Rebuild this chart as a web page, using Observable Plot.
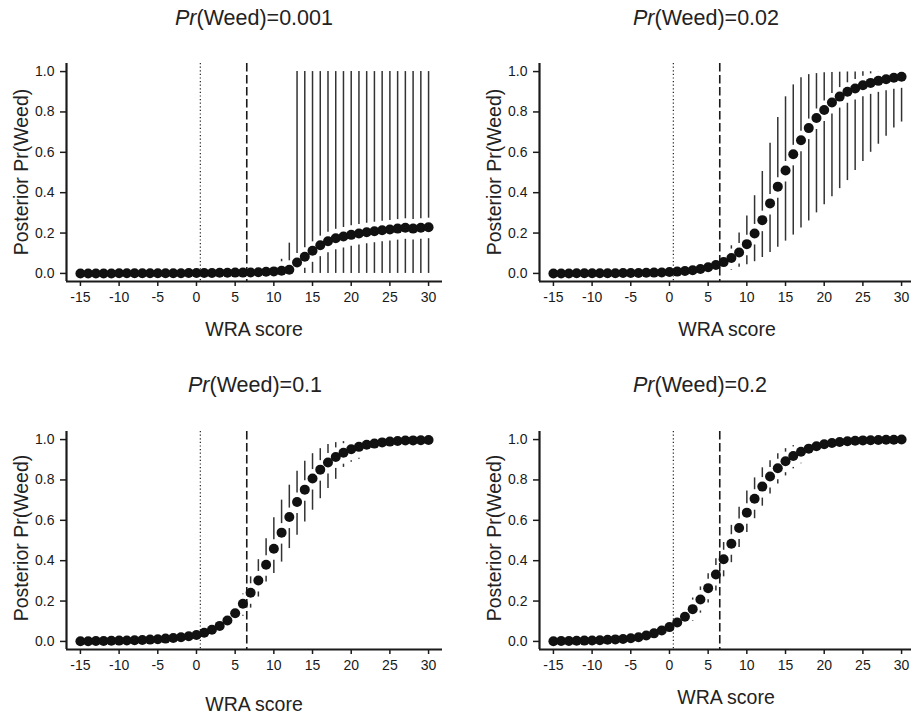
<!DOCTYPE html>
<html><head><meta charset="utf-8">
<script src="https://cdn.jsdelivr.net/npm/d3@7"></script>
<script src="https://cdn.jsdelivr.net/npm/@observablehq/plot@0.6"></script>
<style>
html,body{margin:0;padding:0;overflow:hidden;background:#fff;}
#wrap{position:relative;width:911px;height:717px;overflow:hidden;font-family:"Liberation Sans",Arial,Helvetica,sans-serif;color:#222;}
.panel{position:absolute;width:455px;}
.panel svg{max-width:none !important;display:block;}
.txt{position:absolute;white-space:nowrap;font-size:19.5px;line-height:1;transform:translate(-50%,-50%);}
.title{font-size:21.5px;}
.ylab{transform:translate(-50%,-50%) rotate(-90deg);}
</style></head>
<body><div id="wrap"></div>
<script>
// WRA score categories
const wraScores = [-15,-14,-13,-12,-11,-10,-9,-8,-7,-6,-5,-4,-3,-2,-1,0,1,2,3,4,5,6,7,8,9,10,11,12,13,14,15,16,17,18,19,20,21,22,23,24,25,26,27,28,29,30];
const xTicks = [-15,-10,-5,0,5,10,15,20,25,30];
const yTicks = [0,0.2,0.4,0.6,0.8,1.0];
const refLines = [0.5, 6.5]; // dotted, dashed
const priors = ["0.001", "0.02", "0.1", "0.2"];

// Prior Pr(Weed)=0.001
const p001Mean = [0,0,0,0,0,0.001,0.001,0.001,0.001,0.001,0.001,0.001,0.001,0.001,0.002,0.002,0.002,0.002,0.003,0.003,0.004,0.004,0.005,0.006,0.008,0.010,0.013,0.018,0.054,0.083,0.112,0.140,0.159,0.174,0.183,0.191,0.198,0.204,0.209,0.214,0.218,0.222,0.226,0.222,0.226,0.229];
const p001Lower = [0,0,0,0,0,0,0,0,0,0,0,0,0,0,0,0,0,0,0,0,0,0,0,0,0,0,0,0,0,0,0,0,0,0,0,0,0,0,0,0,0,0,0,0,0,0];
const p001Upper = [0.01,0.01,0.01,0.01,0.01,0.01,0.01,0.01,0.01,0.01,0.01,0.01,0.01,0.01,0.015,0.015,0.015,0.015,0.02,0.02,0.02,0.025,0.025,0.03,0.035,0.04,0.07,0.15,1,1,1,1,1,1,1,1,1,1,1,1,1,1,1,1,1,1];

// Prior Pr(Weed)=0.02
const p02Mean = [0,0,0,0.001,0.001,0.001,0.001,0.001,0.001,0.002,0.002,0.002,0.003,0.004,0.005,0.007,0.009,0.012,0.016,0.022,0.031,0.042,0.056,0.076,0.104,0.145,0.198,0.264,0.347,0.430,0.510,0.590,0.660,0.720,0.770,0.810,0.847,0.876,0.900,0.916,0.932,0.944,0.954,0.962,0.969,0.974];
const p02Lower = [0,0,0,0,0,0,0,0,0,0,0,0,0,0,0,0,0,0,0,0,0.002,0.004,0.010,0.016,0.030,0.043,0.058,0.079,0.104,0.130,0.160,0.190,0.225,0.260,0.300,0.340,0.380,0.420,0.460,0.510,0.555,0.600,0.640,0.680,0.720,0.750];
const p02Upper = [0.01,0.01,0.01,0.01,0.01,0.01,0.01,0.01,0.01,0.01,0.01,0.01,0.01,0.01,0.012,0.015,0.018,0.022,0.028,0.035,0.050,0.070,0.095,0.137,0.200,0.285,0.385,0.505,0.645,0.772,0.875,0.934,0.970,0.985,0.990,0.994,0.996,0.997,0.998,0.998,0.999,0.999,0.999,1,1,1];

// Prior Pr(Weed)=0.1
const p1Mean = [0.001,0.001,0.002,0.002,0.003,0.004,0.005,0.006,0.007,0.009,0.011,0.014,0.017,0.021,0.026,0.032,0.043,0.058,0.077,0.104,0.140,0.187,0.241,0.302,0.380,0.459,0.539,0.616,0.691,0.752,0.807,0.851,0.886,0.914,0.935,0.952,0.964,0.974,0.980,0.986,0.990,0.993,0.995,0.996,0.997,0.998];
const p1Lower = [0,0,0,0,0,0,0,0,0,0,0,0,0.005,0.007,0.010,0.013,0.020,0.030,0.045,0.065,0.100,0.125,0.165,0.220,0.294,0.336,0.393,0.460,0.526,0.592,0.650,0.707,0.757,0.803,0.862,0.888,0.902,0.930,0.945,0.958,0.968,0.975,0.980,0.984,0.987,0.990];
const p1Upper = [0.005,0.005,0.006,0.007,0.008,0.010,0.012,0.014,0.016,0.020,0.024,0.028,0.034,0.040,0.048,0.058,0.072,0.090,0.115,0.145,0.180,0.235,0.320,0.405,0.509,0.613,0.700,0.774,0.843,0.893,0.930,0.955,0.975,0.985,0.990,0.994,0.996,0.997,0.998,0.999,0.999,1,1,1,1,1];

// Prior Pr(Weed)=0.2
const p2Mean = [0.001,0.002,0.002,0.003,0.004,0.005,0.006,0.008,0.010,0.012,0.016,0.021,0.029,0.040,0.054,0.071,0.094,0.122,0.160,0.208,0.264,0.332,0.407,0.484,0.562,0.638,0.707,0.767,0.817,0.858,0.893,0.919,0.940,0.955,0.967,0.977,0.983,0.988,0.992,0.994,0.996,0.997,0.998,0.999,0.999,1.000];
const p2Lower = [0,0,0,0,0,0.001,0.002,0.003,0.004,0.005,0.007,0.010,0.015,0.024,0.035,0.048,0.066,0.088,0.100,0.140,0.190,0.250,0.320,0.390,0.465,0.540,0.608,0.670,0.730,0.780,0.820,0.855,0.880,0.905,0.925,0.940,0.955,0.965,0.975,0.980,0.985,0.988,0.990,0.992,0.994,0.995];
const p2Upper = [0.004,0.005,0.006,0.008,0.010,0.012,0.014,0.017,0.021,0.025,0.032,0.040,0.050,0.062,0.075,0.098,0.128,0.162,0.215,0.270,0.335,0.410,0.490,0.575,0.665,0.745,0.810,0.860,0.895,0.930,0.955,0.970,0.980,0.988,0.992,0.995,0.997,0.998,0.999,1,1,1,1,1,1,1];

const series = [
  {mean: p001Mean, lower: p001Lower, upper: p001Upper},
  {mean: p02Mean, lower: p02Lower, upper: p02Upper},
  {mean: p1Mean, lower: p1Lower, upper: p1Upper},
  {mean: p2Mean, lower: p2Lower, upper: p2Upper}
];

// layout
const layout = [
  {left: 0, top: 41, titleX: 254, titleY: 19, xlabX: 254, xlabY: 330, ylabX: 22, ylabY: 172},
  {left: 473.4, top: 41, titleX: 706, titleY: 19, xlabX: 727, xlabY: 330, ylabX: 495, ylabY: 172},
  {left: 0, top: 409.3, titleX: 255, titleY: 386, xlabX: 254, xlabY: 705, ylabX: 22, ylabY: 538},
  {left: 473.4, top: 409.3, titleX: 700, titleY: 386, xlabX: 726, xlabY: 698, ylabX: 495, ylabY: 538}
];

const W = 455, ml = 66, mr = 13, mt = 22, innerH = 218, mb = 40;
const xDom = [-16.8, 31.8], yDom = [-0.04, 1.04];
const pxToY = (yDom[1] - yDom[0]) / innerH;
const gapUp = 9 * pxToY, gapDown = 11.5 * pxToY;
const font = '"Liberation Sans",Arial,Helvetica,sans-serif';
const wrap = document.getElementById("wrap");

series.forEach((s, k) => {
  const L = layout[k];
  const rows = wraScores.map((x, i) => ({x, y: s.mean[i], lo: s.lower[i], hi: s.upper[i]}));
  const upSeg = rows.filter(d => d.hi > d.y + gapUp).map(d => ({x: d.x, y1: d.y + gapUp, y2: d.hi}));
  const dnSeg = rows.filter(d => d.lo < d.y - gapDown).map(d => ({x: d.x, y1: d.lo, y2: d.y - gapDown}));
  const chart = Plot.plot({
    width: W, height: mt + innerH + mb,
    marginTop: mt, marginBottom: mb, marginLeft: ml, marginRight: mr,
    x: {domain: xDom}, y: {domain: yDom},
    style: {fontFamily: font, fontSize: "14px", color: "#1a1a1a", background: "transparent", overflow: "visible", maxWidth: "none"},
    marks: [
      Plot.ruleX([refLines[0]], {stroke: "#222", strokeWidth: 1.2, strokeDasharray: "1.2,2.4"}),
      Plot.ruleX([refLines[1]], {stroke: "#1a1a1a", strokeWidth: 1.6, strokeDasharray: "8.5,3.5"}),
      Plot.ruleX(upSeg, {x: "x", y1: "y1", y2: "y2", stroke: "#333", strokeWidth: 1.5}),
      Plot.ruleX(dnSeg, {x: "x", y1: "y1", y2: "y2", stroke: "#333", strokeWidth: 1.5}),
      Plot.dot(rows, {x: "x", y: "y", r: 5, fill: "#111", stroke: "none"}),
      Plot.axisY({ticks: yTicks, tickFormat: d3.format(".1f"), tickSize: 6, tickPadding: 6, strokeWidth: 1.5, label: null}),
      Plot.axisX({ticks: xTicks, tickFormat: d => String(d), tickSize: 5, tickPadding: 6, strokeWidth: 1.5, label: null}),
      Plot.ruleX([xDom[0]], {stroke: "#1a1a1a", strokeWidth: 2.2}),
      Plot.ruleY([yDom[0]], {stroke: "#1a1a1a", strokeWidth: 2.2})
    ]
  });
  const p = document.createElement("div");
  p.className = "panel";
  p.style.left = L.left + "px"; p.style.top = L.top + "px";
  p.appendChild(chart);
  wrap.appendChild(p);

  const t = document.createElement("div");
  t.className = "txt title";
  t.style.left = L.titleX + "px"; t.style.top = L.titleY + "px";
  t.innerHTML = "<i>Pr</i>(Weed)=" + priors[k];
  wrap.appendChild(t);

  const xl = document.createElement("div");
  xl.className = "txt";
  xl.style.left = L.xlabX + "px"; xl.style.top = L.xlabY + "px";
  xl.textContent = "WRA score";
  wrap.appendChild(xl);

  const yl = document.createElement("div");
  yl.className = "txt ylab";
  yl.style.left = L.ylabX + "px"; yl.style.top = L.ylabY + "px";
  yl.textContent = "Posterior Pr(Weed)";
  wrap.appendChild(yl);
});
</script>
</body></html>
